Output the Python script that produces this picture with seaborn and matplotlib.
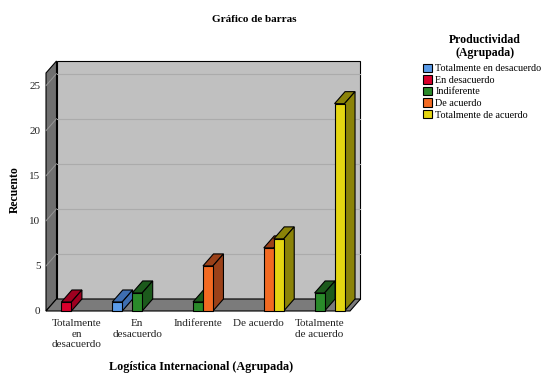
import matplotlib
matplotlib.use("Agg")
import matplotlib.pyplot as plt
from matplotlib.patches import Polygon, Rectangle, Patch
import pandas as pd
import seaborn as sns

# Categories on the x axis (Logística Internacional, grouped)
categories = ["Totalmente en desacuerdo", "En desacuerdo", "Indiferente",
              "De acuerdo", "Totalmente de acuerdo"]
tick_labels = ["Totalmente\nen\ndesacuerdo", "En\ndesacuerdo", "Indiferente",
               "De acuerdo", "Totalmente\nde acuerdo"]

# Hue levels (Productividad, grouped) and their counts per category
levels = ["Totalmente en desacuerdo", "En desacuerdo", "Indiferente",
          "De acuerdo", "Totalmente de acuerdo"]
counts_tot_desacuerdo = [0, 1, 0, 0, 0]
counts_en_desacuerdo = [1, 0, 0, 0, 0]
counts_indiferente = [0, 2, 1, 0, 2]
counts_de_acuerdo = [0, 0, 5, 7, 0]
counts_tot_acuerdo = [0, 0, 0, 8, 23]
series = [counts_tot_desacuerdo, counts_en_desacuerdo, counts_indiferente,
          counts_de_acuerdo, counts_tot_acuerdo]

front_colors = ["#5a9be8", "#d9002c", "#2a8a2a", "#f26a22", "#e5d611"]
shade_colors = ["#3e6eb0", "#9e0020", "#1c5a1c", "#9b4119", "#8b8308"]

rows = []
for lvl, vals in zip(levels, series):
    for cat, v in zip(categories, vals):
        if v > 0:
            rows.append({"cat": cat, "prod": lvl, "count": v})
df = pd.DataFrame(rows)

plt.rcParams["font.family"] = ["Liberation Serif", "DejaVu Serif"]

fig = plt.figure(figsize=(5.42, 3.74), dpi=100)
W, H = 542, 374
ax = fig.add_axes([46 / W, 1 - 311 / H, 304 / W, 238 / H])

sns.barplot(data=df, x="cat", y="count", hue="prod", order=categories,
            hue_order=levels, palette=front_colors, width=0.82, gap=0,
            dodge=True, errorbar=None, legend=False, saturation=1,
            edgecolor="black", linewidth=0.8, ax=ax)
bars = [p for p in ax.patches if isinstance(p, Rectangle)]

YTOP = 26.4
ax.set_xlim(-0.5, 4.5)
ax.set_ylim(0, YTOP)
ax.patch.set_visible(False)
for s in ax.spines.values():
    s.set_visible(False)

# depth offset of the 3D box, in pixels, converted to data units
DX, DY = 10.5, 12.0
p0 = ax.transData.transform((0, 0))
p1 = ax.transData.transform((1, 1))
ddx = DX / (p1[0] - p0[0])
ddy = DY / (p1[1] - p0[1])

x0, x1 = -0.5, 4.5
# back wall
ax.add_patch(Rectangle((x0 + ddx, ddy), x1 - x0, YTOP, facecolor="#c0c0c0",
                       edgecolor="black", linewidth=0.8, zorder=0.5, clip_on=False))
# left side wall
ax.add_patch(Polygon([(x0, 0), (x0 + ddx, ddy), (x0 + ddx, YTOP + ddy), (x0, YTOP)],
                     closed=True, facecolor="#6f6f6f", edgecolor="black",
                     linewidth=0.8, zorder=0.7, clip_on=False))
# floor
ax.add_patch(Polygon([(x0, 0), (x1, 0), (x1 + ddx, ddy), (x0 + ddx, ddy)],
                     closed=True, facecolor="#7b7b7b", edgecolor="black",
                     linewidth=0.8, zorder=0.8, clip_on=False))

yticks = [0, 5, 10, 15, 20, 25]
for yv in yticks[1:]:
    ax.plot([x0 + ddx, x1 + ddx], [yv + ddy, yv + ddy], color="#ababab",
            lw=0.8, zorder=0.6, clip_on=False)
    ax.plot([x0, x0 + ddx], [yv, yv + ddy], color="#959595", lw=0.7,
            zorder=0.75, clip_on=False)

# 3D faces for each bar, painted left to right
bars.sort(key=lambda b: b.get_x())
for i, b in enumerate(bars):
    x, w, h = b.get_x(), b.get_width(), b.get_height()
    fc = b.get_facecolor()
    idx = min(range(5), key=lambda k: sum(abs(a - c) for a, c in zip(
        matplotlib.colors.to_rgb(front_colors[k]), fc[:3])))
    shade = shade_colors[idx]
    z = 2 + i * 0.01
    ax.add_patch(Polygon([(x, h), (x + w, h), (x + w + ddx, h + ddy), (x + ddx, h + ddy)],
                         closed=True, facecolor=shade, edgecolor="black",
                         linewidth=0.8, zorder=z, clip_on=False))
    ax.add_patch(Polygon([(x + w, 0), (x + w + ddx, ddy), (x + w + ddx, h + ddy), (x + w, h)],
                         closed=True, facecolor=shade, edgecolor="black",
                         linewidth=0.8, zorder=z, clip_on=False))
    b.set_zorder(z + 0.005)
    b.set_clip_on(False)

ax.set_yticks(yticks)
ax.set_yticklabels([str(v) for v in yticks], fontsize=8, color="#222222")
ax.set_xticks(range(len(categories)))
ax.set_xticklabels(tick_labels, fontsize=8, color="#222222", linespacing=1.2)
ax.tick_params(axis="both", length=0)
ax.tick_params(axis="y", pad=4)
ax.tick_params(axis="x", pad=6)
ax.set_xlabel("")
ax.set_ylabel("")

fig.text(15 / W, 1 - 190 / H, "Recuento", rotation=90, ha="center", va="center",
         fontsize=8.5, fontweight="bold")
fig.text(201 / W, 1 - 373 / H, "Logística Internacional (Agrupada)", ha="center",
         va="bottom", fontsize=8.7, fontweight="bold")
fig.text(254 / W, 1 - 19 / H, "Gráfico de barras", ha="center", va="center",
         fontsize=8, fontweight="bold")

# legend: title block and colour keys
fig.text(485 / W, 1 - 46.5 / H, "Productividad\n(Agrupada)", ha="center",
         va="center", fontsize=8.5, fontweight="bold", linespacing=1.05)
handles = [Patch(facecolor=c, edgecolor="black", linewidth=0.8) for c in front_colors]
leg = fig.legend(handles, levels, loc="upper left",
                 bbox_to_anchor=(423 / W, 1 - 63.5 / H), frameon=False,
                 fontsize=7.3, handlelength=0.9, handleheight=0.9,
                 handletextpad=0.3, labelspacing=0.19, borderaxespad=0,
                 borderpad=0)

fig.savefig("out.png", dpi=100)
